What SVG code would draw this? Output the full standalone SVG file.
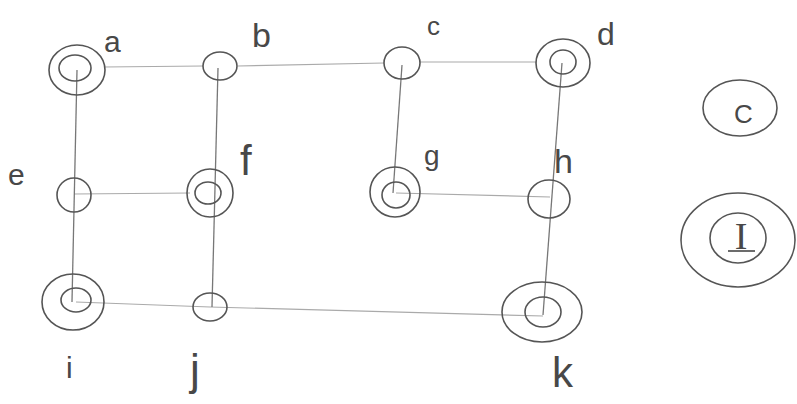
<svg xmlns="http://www.w3.org/2000/svg" width="797" height="404" viewBox="0 0 797 404">
<style>
.bg{fill:#fff}
.ring{fill:none;stroke:#555;stroke-width:1.6}
.edge{fill:none;stroke:#777;stroke-width:1.3}
.hedge{fill:none;stroke:#aaa;stroke-width:1.2}
.lbl{font-family:"Liberation Sans",Arial,sans-serif;fill:#484848}
.sym{font-family:"Liberation Serif","Times New Roman",serif;fill:#484848}
</style>
<rect class="bg" width="797" height="404"/>
<g id="connectors">
<path class="hedge" d="M104 67 L203 66"/>
<path class="hedge" d="M238 66 L384 63"/>
<path class="hedge" d="M420 62 L537 62"/>
<path class="hedge" d="M74 194 L190 193"/>
<path class="hedge" d="M396 193 L550 197"/>
<path class="hedge" d="M76 302 L210 307 L543 316"/>
<path class="edge" d="M77 70 L72 302"/>
<path class="edge" d="M218 68 L212 307"/>
<path class="edge" d="M402 65 L393 193"/>
<path class="edge" d="M562 63 L543 315"/>
</g>
<g id="node-a"><ellipse class="ring" cx="77" cy="70" rx="28" ry="25"/><ellipse class="ring" cx="75" cy="68" rx="16" ry="13"/><text class="lbl" x="104" y="52" font-size="30">a</text></g>
<g id="node-b"><ellipse class="ring" cx="220" cy="66" rx="17" ry="14"/><text class="lbl" x="252" y="47" font-size="34">b</text></g>
<g id="node-c"><ellipse class="ring" cx="402" cy="63" rx="18" ry="16"/><text class="lbl" x="427" y="35" font-size="26">c</text></g>
<g id="node-d"><ellipse class="ring" cx="563" cy="63" rx="27" ry="24"/><ellipse class="ring" cx="563" cy="62" rx="13" ry="12"/><text class="lbl" x="597" y="45" font-size="32">d</text></g>
<g id="node-e"><ellipse class="ring" cx="74" cy="195" rx="17" ry="17"/><text class="lbl" x="8" y="185" font-size="30">e</text></g>
<g id="node-f"><ellipse class="ring" cx="210" cy="193" rx="23" ry="24"/><ellipse class="ring" cx="208" cy="193" rx="13" ry="11"/><text class="lbl" x="240" y="175" font-size="42">f</text></g>
<g id="node-g"><ellipse class="ring" cx="395" cy="192" rx="25" ry="25"/><ellipse class="ring" cx="396" cy="195" rx="14" ry="13"/><text class="lbl" x="424" y="165" font-size="28">g</text></g>
<g id="node-h"><ellipse class="ring" cx="549" cy="199" rx="21" ry="19"/><text class="lbl" x="554" y="173" font-size="34">h</text></g>
<g id="node-i"><ellipse class="ring" cx="73" cy="302" rx="31" ry="28"/><ellipse class="ring" cx="76" cy="300" rx="15" ry="12"/><text class="lbl" x="66" y="378" font-size="30">i</text></g>
<g id="node-j"><ellipse class="ring" cx="210" cy="307" rx="17" ry="14"/><text class="lbl" x="190" y="385" font-size="44">j</text></g>
<g id="node-k"><ellipse class="ring" cx="542" cy="312" rx="40" ry="30"/><ellipse class="ring" cx="543" cy="312" rx="18" ry="15"/><text class="lbl" x="552" y="387" font-size="42">k</text></g>
<g id="legend-c"><ellipse class="ring" cx="740" cy="108" rx="37" ry="28"/><text class="lbl" x="734" y="123" font-size="26">C</text></g>
<g id="legend-i"><ellipse class="ring" cx="738" cy="240" rx="57" ry="47"/><ellipse class="ring" cx="738" cy="238" rx="28" ry="25"/><text class="sym" x="741" y="249" font-size="38" text-anchor="middle">I</text><path d="M728 251 L755 251" stroke="#484848" stroke-width="1.6"/></g>
</svg>
